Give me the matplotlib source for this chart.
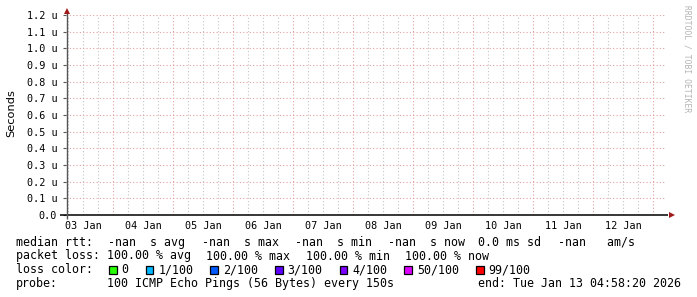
import numpy as np
import pandas as pd
import matplotlib
matplotlib.use("Agg")
import matplotlib.pyplot as plt
import matplotlib.dates as mdates
from matplotlib.patches import Rectangle
import matplotlib.transforms as mtransforms

# ---------------- data ----------------
start = pd.Timestamp("2026-01-03 04:58:20")
end = pd.Timestamp("2026-01-13 04:58:20")
day_labels = ["03 Jan", "04 Jan", "05 Jan", "06 Jan", "07 Jan",
              "08 Jan", "09 Jan", "10 Jan", "11 Jan", "12 Jan"]
day_dates = pd.date_range("2026-01-03", periods=10, freq="D")
y_ticks = [0.0, 0.1e-6, 0.2e-6, 0.3e-6, 0.4e-6, 0.5e-6, 0.6e-6,
           0.7e-6, 0.8e-6, 0.9e-6, 1.0e-6, 1.1e-6, 1.2e-6]
y_tick_labels = ["0.0", "0.1 u", "0.2 u", "0.3 u", "0.4 u", "0.5 u", "0.6 u",
                 "0.7 u", "0.8 u", "0.9 u", "1.0 u", "1.1 u", "1.2 u"]
# median rtt series: no data (all NaN)
rtt_times = pd.date_range(start, end, freq="150s")
median_rtt = np.full(len(rtt_times), np.nan)

row1 = ["median rtt:", "-nan  s avg", "-nan  s max", "-nan  s min",
        "-nan  s now", "0.0 ms sd", "-nan   am/s"]
row2 = ["packet loss:", "100.00 % avg", "100.00 % max", "100.00 % min",
        "100.00 % now"]
loss_labels = ["0", "1/100", "2/100", "3/100", "4/100", "50/100", "99/100"]
loss_colors = ["#26ff00", "#00b8ff", "#0059ff", "#5e00ff", "#7e00ff",
               "#dd00ff", "#ff0000"]
probe_label = "probe:"
probe_text = "100 ICMP Echo Pings (56 Bytes) every 150s"
end_text = "end: Tue Jan 13 04:58:20 2026"
watermark = "RRDTOOL / TOBI OETIKER"

# ---------------- figure ----------------
W, H = 697, 297
fig = plt.figure(figsize=(W / 100, H / 100), dpi=100)
fig.patch.set_facecolor("white")

def fx(x):
    return x / W

def fy(y):
    return 1 - y / H

L, R, T, B = 65.5, 665.5, 15, 215
ax = fig.add_axes([fx(L), fy(B), (R - L) / W, (B - T) / H])
ax.set_facecolor("white")
ax.set_xlim(start, end)
ax.set_ylim(0, 1.2e-6)

ax.plot(rtt_times, median_rtt, color="#00aa00")

mono = "DejaVu Sans Mono"
minor_c = "#c4c4c4"
major_c = "#e6a0a0"

# vertical grid
for t in pd.date_range("2026-01-03 06:00", end, freq="6h"):
    if t.hour == 0:
        continue
    ax.axvline(t, color=minor_c, lw=0.8, dashes=(1, 2), zorder=1)
for t in pd.date_range("2026-01-04", end, freq="D"):
    ax.axvline(t, color=major_c, lw=0.8, dashes=(1, 2), zorder=1.1)
# horizontal grid
for v in y_ticks[1:]:
    ax.axhline(v, color=major_c, lw=0.8, dashes=(1, 2), zorder=1.1)

for s in ax.spines.values():
    s.set_visible(False)

# axes lines
ax.plot([-6 / 600, 1.004], [0, 0], transform=ax.transAxes, color="black",
        lw=1.1, clip_on=False, zorder=3, solid_capstyle="butt")
ax.plot([0.0025, 0.0025], [-4 / 200, 1.02], transform=ax.transAxes, color="#555555",
        lw=1.0, clip_on=False, zorder=3, solid_capstyle="butt")
# arrows
ax.plot([1.011], [0], marker=">", ms=4.2, color="#a01818", transform=ax.transAxes,
        clip_on=False, zorder=4, mew=0)
ax.plot([0.0025], [1.018], marker="^", ms=4.2, color="#a01818", transform=ax.transAxes,
        clip_on=False, zorder=4, mew=0)

# ticks
ax.set_yticks(y_ticks)
ax.set_yticklabels(y_tick_labels, fontfamily=mono, fontsize=7.3)
ax.tick_params(axis="y", length=2.5, width=0.8, color="#555555", pad=3.5)
day_noon = [d + pd.Timedelta(hours=12) for d in day_dates]
ax.set_xticks(day_noon)
ax.set_xticklabels(day_labels, fontfamily=mono, fontsize=7.3)
ax.tick_params(axis="x", length=0, pad=4.5)

# axis title
fig.text(fx(11), fy(113), "Seconds", rotation=90, ha="center", va="center",
         fontfamily="DejaVu Sans", fontsize=8.2)

# watermark
fig.text(fx(687), fy(5), watermark, rotation=-90, ha="center", va="top",
         fontfamily=mono, fontsize=5.8, color="#b4b4b4")

# legend
fs = 8.37
r1_x = [16, 108, 201.5, 295, 388, 478, 558]
for txt, x in zip(row1, r1_x):
    fig.text(fx(x), fy(245.7), txt, fontfamily=mono, fontsize=fs, va="baseline")
r2_x = [16, 107, 206.5, 306, 405]
for txt, x in zip(row2, r2_x):
    fig.text(fx(x), fy(259.5), txt, fontfamily=mono, fontsize=fs, va="baseline")

fig.text(fx(16), fy(273.3), "loss color:", fontfamily=mono, fontsize=fs, va="baseline")
bx = 109.0
for lab, col in zip(loss_labels, loss_colors):
    fig.add_artist(Rectangle((fx(bx), fy(273.5)), 7.5 / W, 8 / H,
                             transform=fig.transFigure, facecolor=col,
                             edgecolor="black", lw=0.9))
    fig.text(fx(bx + 12.5), fy(273.3), lab, fontfamily=mono, fontsize=fs, va="baseline")
    bx += 29.7 + 7 * len(lab)

fig.text(fx(16), fy(287.3), probe_label, fontfamily=mono, fontsize=fs, va="baseline")
fig.text(fx(107), fy(287.3), probe_text, fontfamily=mono, fontsize=fs, va="baseline")
fig.text(fx(478), fy(287.3), end_text, fontfamily=mono, fontsize=fs, va="baseline")

fig.savefig("out.png", dpi=100)
